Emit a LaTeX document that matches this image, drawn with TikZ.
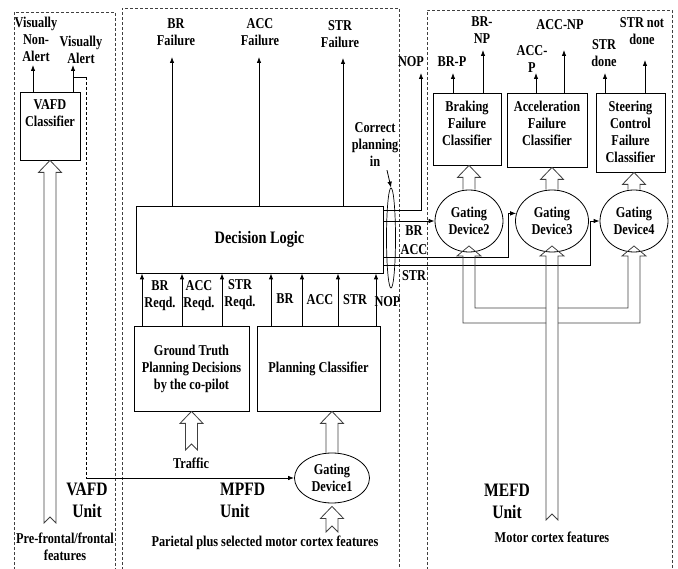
\documentclass[tikz,border=0pt]{standalone}
\usepackage{fontspec}
\setmainfont{Liberation Serif}[FakeStretch=0.82]
\usetikzlibrary{shapes.geometric,arrows.meta,calc}
\newcommand\hollowup[2]{%
  \draw[hollow] let \p1=(#1), \p2=(#2) in
    (\x2-6pt,\y1) -- (\x2-6pt,\y2-12pt) -- (\x2-11.5pt,\y2-12pt) -- (\x2,\y2)
    -- (\x2+11.5pt,\y2-12pt) -- (\x2+6pt,\y2-12pt) -- (\x2+6pt,\y1);}
\newcommand\hollowupN[2]{%
  \draw[hollow] let \p1=(#1), \p2=(#2) in
    (\x2-6pt,\y1) -- (\x2-6pt,\y2-12pt) -- (\x2-11.5pt,\y2-12pt) -- (\x2,\y2)
    -- (\x2+11.5pt,\y2-12pt) -- (\x2+6pt,\y2-12pt) -- (\x2+6pt,\y1) -- (\x2,\y1+6pt) -- cycle;}
\begin{document}
\begin{tikzpicture}[x=1pt,y=-1pt,
  txt/.style={font=\bfseries\fontsize{15}{17}\selectfont, align=center, inner sep=0pt},
  unitlbl/.style={font=\bfseries\fontsize{19}{22}\selectfont, align=center, inner sep=0pt},
  box/.style={draw, line width=0.8pt, rectangle, inner sep=0pt, txt},
  gate/.style={draw, ellipse, line width=0.8pt, inner sep=0pt, txt},
  arr/.style={line width=0.8pt, -{Latex[length=6pt,width=4.5pt]}},
  ln/.style={line width=0.8pt},
  unitframe/.style={dash pattern=on 3pt off 2pt, line width=0.7pt, black!75},
  hollow/.style={line width=0.8pt, black!75},
]
\useasboundingbox (0,0) rectangle (678,569);
\clip (0,0) rectangle (678,569);

% unit frames
\draw[unitframe] (14,575) -- (14,12) -- (115,12) -- (115,575);
\draw[unitframe] (122,575) -- (122,8) -- (399,8) -- (399,575);
\draw[unitframe] (427,575) -- (427,10) -- (672,10) -- (672,575);

% ---------------- VAFD ----------------
\node[box, minimum width=60, minimum height=68,
  label={[txt, anchor=north, yshift=-8pt]north:VAFD\\Classifier}] (vafd) at (50,126) {};
\node[txt] (vna) at (36,39) {Visually\\Non-\\Alert};
\node[txt] (va) at (81,50) {Visually\\Alert};
\coordinate (vnat) at (33,65);
\coordinate (vat) at (73,65);
\draw[arr] (vafd.north -| vnat) -- (vnat);
\draw[arr] (vafd.north -| vat) -- (vat);
\coordinate (pft) at (50,523);
\hollowupN{pft}{vafd.south}
\node[txt] (pff) at (65,547) {Pre-frontal/frontal\\features};
\node[unitlbl] (vafdu) at (87,500) {VAFD\\Unit};

% ---------------- MPFD ----------------
\node[box, minimum width=247, minimum height=67,
  font=\bfseries\fontsize{17.5}{20}\selectfont] (dl) at (259.5,239.5) {Decision Logic};
\node[box, minimum width=115, minimum height=85] (gt) at (191.5,368.5)
  {Ground Truth\\Planning Decisions\\by the co-pilot};
\node[box, minimum width=123, minimum height=85] (pc) at (318.5,368.5) {Planning Classifier};
\node[gate, minimum width=75, minimum height=50] (gd1) at (332,478) {Gating\\Device1};

\coordinate (brf) at (172,57);
\coordinate (accf) at (259,57);
\coordinate (strf) at (343,58);
\draw[arr] (dl.north -| brf) -- (brf);
\draw[arr] (dl.north -| accf) -- (accf);
\draw[arr] (dl.north -| strf) -- (strf);
\node[txt] (brfl) at (176,32) {BR\\Failure};
\node[txt] (accfl) at (260,32) {ACC\\Failure};
\node[txt] (strfl) at (340,34) {STR\\Failure};

\foreach \x in {142,182,222} \draw[arr] (gt.north -| \x,0) -- (dl.south -| \x,0);
\foreach \x in {271,302,338,376} \draw[arr] (pc.north -| \x,0) -- (dl.south -| \x,0);
\node[txt] (l1) at (160,296) {BR\\Reqd.};
\node[txt] (l2) at (199,296) {ACC\\Reqd.};
\node[txt] (l3) at (240,295) {STR\\Reqd.};
\node[txt] (l4) at (285,299) {BR};
\node[txt] (l5) at (320,300) {ACC};
\node[txt] (l6) at (355,300) {STR};
\node[txt] (l7) at (387.5,302) {NOP};

% correct planning bundle
\node[draw, ellipse, line width=0.7pt, minimum width=9, minimum height=100, inner sep=0pt] (cp) at (391,238) {};
\node[txt] (cpl) at (375,145) {Correct\\planning\\in};
\draw[arr] ([xshift=12pt,yshift=-3pt]cpl.south) -- (cp.north);

\coordinate (trt) at (190,450);
\hollowupN{trt}{gt.south}
\node[txt] (trl) at (191,463) {Traffic};
\hollowup{gd1.north}{gd1.north |- pc.south}
\coordinate (pmt) at (332,532);
\hollowupN{pmt}{[yshift=-3pt]gd1.south}
\node[txt] (pml) at (265,543) {Parietal plus selected motor cortex features};
\node[unitlbl, align=left, anchor=west] (mpfdu) at (220,500) {MPFD\\Unit};

% visually alert link
\coordinate (vbr) at (73,77);
\coordinate (vcorner) at (86,77);
\coordinate (vdown) at (86,478);
\draw[ln] (vbr) -- (vcorner);
\draw[ln, dash pattern=on 3pt off 2pt] (vcorner) -- (vdown);
\draw[arr] (vdown) -- (gd1.west);

% ---------------- MEFD ----------------
\node[box, minimum width=68, minimum height=72,
  label={[txt, anchor=north, yshift=-8pt]north:Braking\\Failure\\Classifier}] (brk) at (467,129) {};
\node[box, minimum width=80, minimum height=74,
  label={[txt, anchor=north, yshift=-8pt]north:Acceleration\\Failure\\Classifier}] (acc) at (547,130) {};
\node[box, minimum width=69, minimum height=79,
  label={[txt, anchor=north, yshift=-8pt]north:Steering\\Control\\Failure\\Classifier}] (str) at (630.5,132.5) {};

\node[gate, minimum width=68, minimum height=62] (gd2) at (469,221) {Gating\\Device2};
\node[gate, minimum width=73, minimum height=62] (gd3) at (552,221) {Gating\\Device3};
\node[gate, minimum width=68, minimum height=62] (gd4) at (634,221) {Gating\\Device4};

\hollowup{gd2.north}{gd2.north |- brk.south}
\hollowup{gd3.north}{gd3.north |- acc.south}
\hollowup{gd4.north}{gd4.north |- str.south}

\coordinate (brp) at (453,73);
\coordinate (brnp) at (483,50);
\coordinate (accp) at (536,73);
\coordinate (accnp) at (564,50);
\coordinate (strd) at (605,73);
\coordinate (strnd) at (645,60);
\draw[arr] (brk.north -| brp) -- (brp);
\draw[arr] (brk.north -| brnp) -- (brnp);
\draw[arr] (acc.north -| accp) -- (accp);
\draw[arr] (acc.north -| accnp) -- (accnp);
\draw[arr] (str.north -| strd) -- (strd);
\draw[arr] (str.north -| strnd) -- (strnd);
\node[txt] (brpl) at (452,62) {BR-P};
\node[txt] (brnpl) at (482,30) {BR-\\NP};
\node[txt] (accpl) at (532,59) {ACC-\\P};
\node[txt] (accnpl) at (560,25) {ACC-NP};
\node[txt] (strdl) at (604,53) {STR\\done};
\node[txt] (strndl) at (642,31) {STR not\\done};

% decision logic outputs
\coordinate (nopt) at (421,73);
\node[txt] (nopl) at (411,62) {NOP};
\draw[arr] (dl.east |- 0,210) -| (nopt);
\draw[arr] (dl.east |- gd2.west) -- (gd2.west);
\draw[arr] (dl.east |- 0,257) -- (508,257) |- (gd3.168);
\draw[arr] (dl.east |- 0,265) -- (590,265) |- (gd4.west);
\node[txt] (brb) at (414,231) {BR};
\node[txt] (accb) at (414,250) {ACC};
\node[txt] (strb) at (414,276) {STR};

% motor cortex feature tree (hollow)
\draw[hollow] (546,520) -- (546,256) -- (540,256) -- (552,246) -- (564,256) -- (558,256) -- (558,520) -- (552,514) -- cycle;
\draw[hollow] (546,323) -- (463,323) -- (463,256) -- (457,256) -- (469,246) -- (481,256) -- (475,256) -- (475,308) -- (546,308);
\draw[hollow] (558,308) -- (628,308) -- (628,256) -- (622,256) -- (634,246) -- (646,256) -- (640,256) -- (640,323) -- (558,323);

\node[unitlbl] (mefdu) at (507,501) {MEFD\\Unit};
\node[txt] (mcf) at (552,537) {Motor cortex features};
\end{tikzpicture}
\end{document}
